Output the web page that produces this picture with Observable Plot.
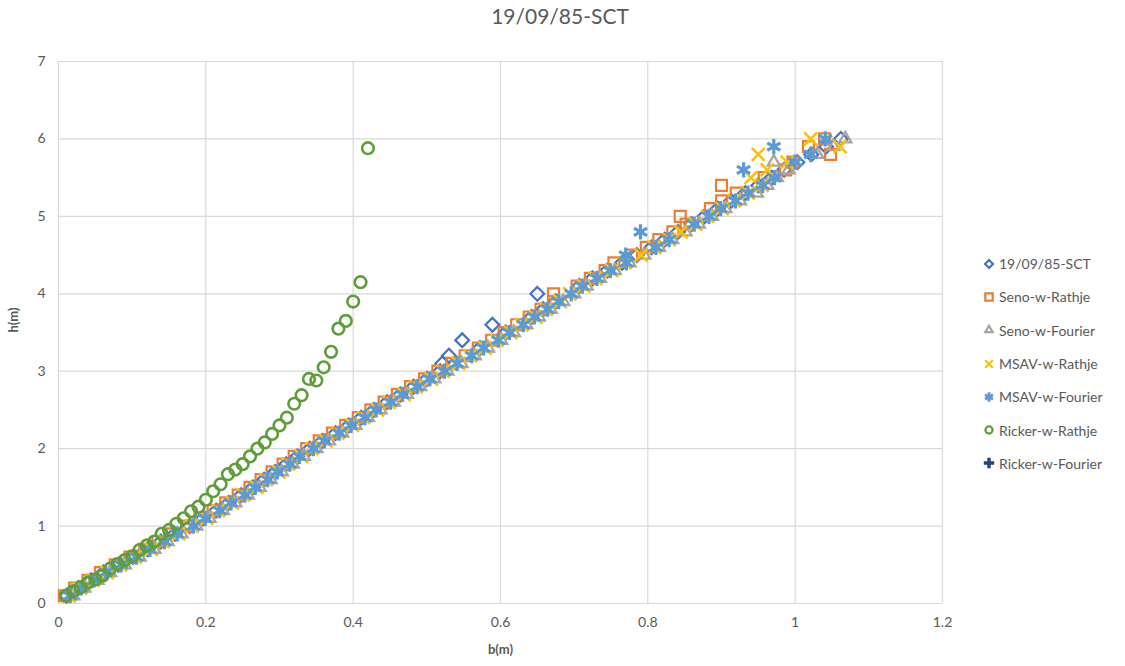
<!DOCTYPE html>
<html><head><meta charset="utf-8">
<script src="https://cdn.jsdelivr.net/npm/d3@7"></script>
<script src="https://cdn.jsdelivr.net/npm/@observablehq/plot@0.6"></script>
<style>
body{margin:0;background:#fff;font-family:Lato,"Liberation Sans",sans-serif}
#wrap{position:relative;width:1125px;height:666px;overflow:hidden}
#title{position:absolute;left:0;width:1120px;top:3px;text-align:center;font-size:21px;color:#595959}
#legend{position:absolute;left:982px;top:247px;font-size:14px;color:#595959}
.item{display:flex;align-items:center;height:33.3px;white-space:nowrap}
.item svg{margin-right:3px}
</style></head><body>
<div id="wrap"><div id="chart"></div><div id="title">19/09/85-SCT</div><div id="legend"></div></div>
<script>
// ---- data ----
const xTicks = [0, 0.2, 0.4, 0.6, 0.8, 1, 1.2];
const xTickLabels = ["0", "0.2", "0.4", "0.6", "0.8", "1", "1.2"];
const yTicks = [0, 1, 2, 3, 4, 5, 6, 7];
const yTickLabels = ["0", "1", "2", "3", "4", "5", "6", "7"];

const seriesNames = ["19/09/85-SCT","Seno-w-Rathje","Seno-w-Fourier","MSAV-w-Rathje","MSAV-w-Fourier","Ricker-w-Rathje","Ricker-w-Fourier"];
const seriesColors = ["#4472C4","#ED7D31","#A5A5A5","#FFC000","#5B9BD5","#5E9E3A","#264478"];

// shared h levels (m) for the first five series
const hLevels = [0.1,0.2,0.3,0.4,0.5,0.6,0.7,0.8,0.9,1.0,
 1.1,1.2,1.3,1.4,1.5,1.6,1.7,1.8,1.9,2.0,
 2.1,2.2,2.3,2.4,2.5,2.6,2.7,2.8,2.9,3.0,
 3.1,3.2,3.3,3.4,3.5,3.6,3.7,3.8,3.9,4.0,
 4.1,4.2,4.3,4.4,4.5,4.6,4.7,4.8,4.9,5.0,
 5.1,5.2,5.3,5.4,5.5,5.6,5.7,5.8,5.9,6.0];

const bSCT = [0.011,0.027,0.044,0.061,0.081,0.101,0.121,0.139,0.158,0.178,
 0.196,0.214,0.231,0.248,0.264,0.279,0.294,0.309,0.324,0.341,
 0.358,0.376,0.394,0.411,0.428,0.446,0.464,0.482,0.500,0.518,
 0.521,0.530,0.572,0.548,0.607,0.589,0.642,0.658,0.675,0.650,
 0.707,0.725,0.745,0.765,0.785,0.805,0.823,0.841,0.859,0.877,
 0.895,0.913,0.932,0.950,0.968,0.985,1.003,1.022,1.042,1.062];

const bSenoRathje = [0.008,0.022,0.040,0.057,0.077,0.097,0.117,0.135,0.154,0.174,
 0.192,0.210,0.227,0.244,0.260,0.275,0.290,0.305,0.320,0.337,
 0.354,0.372,0.390,0.407,0.424,0.442,0.460,0.478,0.497,0.515,
 0.534,0.552,0.570,0.588,0.605,0.622,0.639,0.655,0.672,0.672,
 0.704,0.722,0.742,0.754,0.778,0.798,0.815,0.834,0.852,0.844,
 0.885,0.900,0.920,0.900,0.958,0.987,0.997,1.048,1.018,1.040];

const bSenoFourier = [0.020,0.035,0.053,0.070,0.090,0.110,0.130,0.148,0.167,0.187,
 0.205,0.223,0.240,0.257,0.273,0.288,0.303,0.318,0.333,0.350,
 0.367,0.385,0.403,0.420,0.437,0.455,0.473,0.491,0.510,0.528,
 0.547,0.565,0.583,0.601,0.618,0.635,0.652,0.668,0.685,0.700,
 0.717,0.735,0.755,0.775,0.795,0.815,0.833,0.851,0.869,0.887,
 0.905,0.925,0.948,0.962,0.975,0.991,0.971,1.030,1.052,1.068];

const bMsavRathje = [0.014,0.030,0.047,0.066,0.084,0.104,0.126,0.142,0.163,0.181,
 0.201,0.217,0.236,0.251,0.269,0.282,0.299,0.312,0.330,0.344,
 0.363,0.379,0.399,0.414,0.433,0.449,0.469,0.485,0.506,0.522,
 0.543,0.559,0.579,0.595,0.614,0.629,0.648,0.662,0.681,0.694,
 0.713,0.729,0.751,0.769,0.791,0.809,0.829,0.845,0.865,0.881,
 0.901,0.917,0.936,0.955,0.940,0.962,0.989,0.950,1.061,1.021];

const bMsavFourier = [0.016,0.031,0.048,0.064,0.085,0.106,0.124,0.144,0.161,0.183,
 0.199,0.219,0.234,0.253,0.267,0.284,0.297,0.314,0.327,0.346,
 0.361,0.381,0.397,0.416,0.431,0.451,0.467,0.487,0.504,0.524,
 0.541,0.561,0.577,0.597,0.612,0.631,0.646,0.664,0.679,0.696,
 0.711,0.731,0.749,0.771,0.770,0.811,0.829,0.790,0.863,0.883,
 0.899,0.919,0.936,0.956,0.972,0.930,1.000,1.021,0.971,1.041];

const bRickerRathje = [0.01,0.02,0.03,0.04,0.05,0.06,0.07,0.08,0.09,0.10,
 0.11,0.12,0.13,0.14,0.15,0.16,0.17,0.18,0.19,0.20,
 0.21,0.22,0.23,0.24,0.25,0.26,0.27,0.28,0.29,0.30,
 0.31,0.32,0.33,0.34,0.35,0.36,0.37,0.38,0.39,0.40,
 0.41,0.42];
const hRickerRathje = [0.10,0.16,0.21,0.27,0.31,0.36,0.45,0.51,0.56,0.61,
 0.69,0.75,0.80,0.90,0.95,1.03,1.10,1.19,1.25,1.34,
 1.45,1.54,1.67,1.73,1.80,1.90,2.00,2.08,2.19,2.30,
 2.40,2.58,2.69,2.90,2.88,3.05,3.25,3.55,3.65,3.90,
 4.15,5.88];

const bRickerFourier = [];
const hRickerFourier = [];

// ---- build tables ----
const fromLevels = (bs) => bs.map((b, i) => ({b, h: hLevels[i]}));
const pairs = (bs, hs) => bs.map((b, i) => ({b, h: hs[i]}));
const tables = [
  fromLevels(bSCT), fromLevels(bSenoRathje), fromLevels(bSenoFourier),
  fromLevels(bMsavRathje), fromLevels(bMsavFourier),
  pairs(bRickerRathje, hRickerRathje), pairs(bRickerFourier, hRickerFourier)
];
const symbols = ["diamond2","square2","triangle2","times","asterisk","circle","plus"];
const radii = [6.2, 7.0, 5.8, 6.0, 7.2, 5.8, 5];
const widths = [2.2, 2.2, 2.3, 2.6, 3.2, 2.6, 2.4];

const dots = tables.map((t, k) => Plot.dot(t, {
  x: d => d.b, y: d => d.h, symbol: symbols[k], r: radii[k],
  stroke: seriesColors[k], strokeWidth: widths[k], fill: "none"
}));

const chart = Plot.plot({
  width: 1125, height: 666,
  marginLeft: 58, marginRight: 183, marginTop: 61, marginBottom: 63,
  style: {fontFamily: "Lato, 'Liberation Sans', sans-serif", fontSize: "14px", color: "#595959", background: "#fff"},
  x: {domain: [0, 1.2]},
  y: {domain: [0, 7]},
  marks: [
    Plot.gridX(xTicks, {stroke: "#d9d9d9", strokeOpacity: 1, strokeWidth: 1.2}),
    Plot.gridY(yTicks, {stroke: "#d9d9d9", strokeOpacity: 1, strokeWidth: 1.2}),
    Plot.axisX(xTicks, {tickSize: 0, tickPadding: 14, tickFormat: d => xTickLabels[xTicks.indexOf(d)], label: null, fill: "#595959", fontSize: 14}),
    Plot.axisY(yTicks, {tickSize: 0, tickPadding: 13, tickFormat: d => yTickLabels[yTicks.indexOf(d)], label: null, fill: "#595959", fontSize: 14}),
    Plot.text(["b(m)"], {text: d => d, frameAnchor: "bottom", dy: 50, fontWeight: "bold", fill: "#595959", fontSize: 13}),
    Plot.text(["h(m)"], {text: d => d, frameAnchor: "left", dx: -45, rotate: -90, fontWeight: "bold", fill: "#595959", fontSize: 13}),
    ...dots
  ]
});
document.getElementById("chart").appendChild(chart);

// ---- legend ----
const legendSymbols = [d3.symbolDiamond2, d3.symbolSquare2, d3.symbolTriangle2, d3.symbolTimes, d3.symbolAsterisk, d3.symbolCircle, d3.symbolCross];
const legend = d3.select("#legend");
seriesNames.forEach((name, k) => {
  const it = legend.append("div").attr("class", "item");
  const s = it.append("svg").attr("width", 14).attr("height", 14);
  const filled = k === 6;
  s.append("path")
    .attr("transform", "translate(7,7)")
    .attr("d", d3.symbol(legendSymbols[k], filled ? 60 : (k === 1 ? 70 : (k === 4 ? 60 : 40)))())
    .attr("fill", filled ? seriesColors[k] : "none")
    .attr("stroke", filled ? "none" : seriesColors[k])
    .attr("stroke-width", k === 4 ? 2.8 : 2.2);
  it.append("span").text(name);
});
</script>
</body></html>
